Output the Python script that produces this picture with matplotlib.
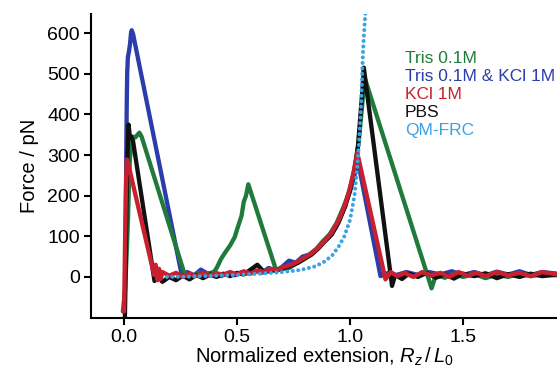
"""Force-extension traces under different buffer conditions, with QM-FRC fit."""

import matplotlib
matplotlib.use("Agg")
import matplotlib.pyplot as plt

plt.rcParams["font.family"] = ["Liberation Sans", "DejaVu Sans"]
plt.rcParams["mathtext.fontset"] = "custom"
plt.rcParams["mathtext.rm"] = "Liberation Sans"
plt.rcParams["mathtext.it"] = "Liberation Sans:italic"

# ── data ───────────────────────────────────────────────────────────────────────
tris_x = [-0.005, 0.005, 0.012, 0.018, 0.022, 0.026, 0.032, 0.04, 0.05, 0.06, 0.068,
          0.078, 0.272, 0.29, 0.31, 0.33, 0.35, 0.37, 0.39, 0.41, 0.43, 0.45, 0.47,
          0.49, 0.505, 0.52, 0.53, 0.54, 0.55, 0.674, 0.7, 0.73, 0.76, 0.79, 0.82,
          0.85, 0.88, 0.91, 0.94, 0.97, 1.0, 1.02, 1.04, 1.055, 1.065, 1.361, 1.38,
          1.42, 1.46, 1.5, 1.55, 1.6, 1.65, 1.7, 1.75, 1.8, 1.85, 1.92]
tris_y = [-85, -30, 60, 150, 230, 290, 320, 345, 343, 350, 355,
          345, 0, 8, 2, 10, 4, 9, 6, 22, 45, 62, 78,
          98, 125, 150, 185, 200, 228, 15, 20, 22, 32, 42, 55,
          68, 88, 105, 132, 170, 215, 260, 340, 430, 490, -28, 5,
          -2, 8, 0, 7, -3, 6, 0, 8, 2, 6, 4]

tris_kcl_x = [0.006, 0.008, 0.01, 0.012, 0.014, 0.017, 0.022, 0.027, 0.031, 0.034, 0.04,
              0.257, 0.28, 0.31, 0.34, 0.37, 0.4, 0.43, 0.46, 0.49, 0.52, 0.55, 0.58,
              0.61, 0.64, 0.67, 0.7, 0.73, 0.76, 0.79, 0.82, 0.85, 0.88, 0.91, 0.94,
              0.97, 1.0, 1.02, 1.035, 1.135, 1.17, 1.2, 1.25, 1.3, 1.35, 1.4, 1.45,
              1.5, 1.55, 1.6, 1.65, 1.7, 1.75, 1.8, 1.85, 1.92]
tris_kcl_y = [0, 150, 300, 420, 500, 540, 555, 575, 600, 607, 598,
              0, 12, 4, 18, 8, 12, 2, 10, 4, 12, 8, 15,
              10, 22, 15, 25, 40, 35, 50, 55, 68, 85, 100, 125,
              165, 210, 250, 285, 2, 10, 4, 12, 5, 12, 6, 14,
              5, 12, 4, 13, 6, 14, 5, 12, 8]

kcl_x = [0.0, 0.002, 0.004, 0.006, 0.008, 0.01, 0.013, 0.02, 0.133, 0.14, 0.148,
         0.155, 0.162, 0.17, 0.2, 0.23, 0.26, 0.29, 0.32, 0.35, 0.38, 0.41, 0.44,
         0.47, 0.5, 0.53, 0.56, 0.59, 0.62, 0.65, 0.68, 0.71, 0.74, 0.77, 0.8,
         0.83, 0.86, 0.89, 0.92, 0.95, 0.98, 1.0, 1.015, 1.032, 1.157, 1.18, 1.21,
         1.24, 1.28, 1.32, 1.36, 1.4, 1.44, 1.48, 1.52, 1.56, 1.6, 1.65, 1.7,
         1.75, 1.8, 1.85, 1.92]
kcl_y = [-85, -20, 60, 130, 200, 250, 289, 275, 5, 30, -8,
         20, -5, 12, 3, 10, 0, 8, 2, 10, 3, 9, 5,
         12, 6, 14, 8, 16, 12, 20, 18, 25, 30, 38, 48,
         58, 72, 90, 110, 140, 180, 220, 255, 306, -6, 12, 2,
         10, 0, 12, 4, 10, 0, 12, 3, 10, 2, 12, 4,
         10, 2, 12, 6]

pbs_x = [0.004, 0.006, 0.008, 0.011, 0.014, 0.017, 0.02, 0.025, 0.032, 0.04, 0.135,
         0.15, 0.17, 0.2, 0.23, 0.26, 0.29, 0.32, 0.35, 0.38, 0.41, 0.44, 0.47,
         0.5, 0.53, 0.56, 0.59, 0.62, 0.65, 0.68, 0.71, 0.74, 0.77, 0.8, 0.83,
         0.86, 0.89, 0.92, 0.95, 0.98, 1.0, 1.02, 1.035, 1.045, 1.055, 1.061, 1.186,
         1.2, 1.23, 1.26, 1.3, 1.34, 1.38, 1.42, 1.46, 1.5, 1.55, 1.6, 1.65,
         1.7, 1.75, 1.8, 1.85, 1.92]
pbs_y = [-100, -30, 60, 170, 260, 330, 375, 350, 345, 334, -10,
         2, -12, 0, -8, 3, -6, 5, -3, 6, 0, 8, 2,
         10, 6, 18, 30, 12, 15, 18, 22, 28, 35, 45, 55,
         70, 88, 105, 135, 175, 215, 265, 320, 390, 460, 515, -22,
         5, -5, 8, 0, 10, -2, 6, -4, 8, 2, 9, -3,
         7, 0, 8, 2, 6]

qm_x = [0.19, 0.3, 0.4, 0.5, 0.6, 0.7, 0.78, 0.84, 0.88, 0.92, 0.95, 0.975,
        1.0, 1.02, 1.032, 1.04, 1.05, 1.055, 1.06, 1.068]
qm_y = [0, 1, 3, 5, 8, 12, 17, 25, 35, 52, 75, 100,
        140, 200, 270, 330, 430, 520, 580, 650]

labels = ["Tris 0.1M", "Tris 0.1M & KCl 1M", "KCl 1M", "PBS", "QM-FRC"]
colours = ["#1f7a3c", "#2b3daa", "#c8202f", "#111111", "#3aa3e3"]

# ── figure ─────────────────────────────────────────────────────────────────────
fig = plt.figure(figsize=(5.57, 3.71), dpi=100)
ax = fig.add_axes([0.1634, 0.1429, 0.8366, 0.8194])

traces = [
    (tris_kcl_x, tris_kcl_y, colours[1]),
    (tris_x, tris_y, colours[0]),
    (pbs_x, pbs_y, colours[3]),
    (kcl_x, kcl_y, colours[2]),
]
for xs, ys, c in traces:
    ax.plot(xs, ys, color=c, lw=3.1, solid_joinstyle="round", solid_capstyle="round")

ax.plot(qm_x, qm_y, color=colours[4], lw=2.9, linestyle=(0, (0.01, 1.35)),
        dash_capstyle="round")

ax.set_xlim(-0.146, 1.916)
ax.set_ylim(-101, 647)
ax.set_xticks([0.0, 0.5, 1.0, 1.5])
ax.set_xticklabels(["0.0", "0.5", "1.0", "1.5"])
ax.set_yticks(range(0, 601, 100))

for side in ("top", "right"):
    ax.spines[side].set_visible(False)
for side in ("left", "bottom"):
    ax.spines[side].set_linewidth(1.5)
ax.tick_params(direction="out", length=5, width=1.5, labelsize=14, pad=3)

ax.set_xlabel(r"Normalized extension, $R_z\,/\,L_{\mathit{0}}$", fontsize=14.5, labelpad=0)
ax.set_ylabel("Force / pN", fontsize=14.5, labelpad=6)

# ── coloured text legend ───────────────────────────────────────────────────────
legend_y = [0.855, 0.795, 0.735, 0.676, 0.617]
for lab, c, y in zip(labels, colours, legend_y):
    ax.text(0.674, y, lab, color=c, fontsize=12.5, va="center", ha="left",
            transform=ax.transAxes)

fig.savefig("out.png", dpi=100, facecolor="white")
plt.close(fig)
